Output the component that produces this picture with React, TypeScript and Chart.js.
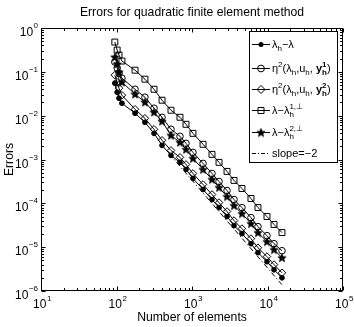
import React, { useEffect, useRef } from 'react';
import { Chart, registerables } from 'chart.js';

Chart.register(...registerables);

// ---------- data ----------
const elements = [95, 102, 108, 118, 176, 238, 314, 401, 527, 693, 833, 1030, 1400, 1840, 2280, 2910, 3600, 4590, 6040, 7480, 9840, 12200, 15550];
const errLambdaH = [0.055, 0.0343, 0.025, 0.0192, 0.01135, 0.00706, 0.00395, 0.0021, 0.00124, 0.00086, 0.000593, 0.00037, 0.000207, 0.000122, 8.0e-5, 5.0e-5, 3.1e-5, 2.04e-5, 1.2e-5, 7.5e-6, 4.66e-6, 3.05e-6, 2.0e-6];
const errEta1 = [0.167, 0.122, 0.093, 0.0718, 0.040, 0.0264, 0.0148, 0.0092, 0.00489, 0.00338, 0.00234, 0.00145, 0.000814, 0.00048, 0.000315, 0.000196, 0.000122, 8.0e-5, 4.73e-5, 2.94e-5, 1.83e-5, 1.2e-5, 8.3e-6];
const errEta2 = [0.084, 0.058, 0.0424, 0.0293, 0.014, 0.0087, 0.00489, 0.00274, 0.00161, 0.00112, 0.00077, 0.00048, 0.000269, 0.000159, 0.000104, 6.5e-5, 4.04e-5, 2.65e-5, 1.57e-5, 9.7e-6, 6.1e-6, 4.0e-6, 2.6e-6];
const errPerp1 = [0.478, 0.314, 0.241, 0.176, 0.109, 0.068, 0.040, 0.0225, 0.0133, 0.0092, 0.00635, 0.00395, 0.00222, 0.00131, 0.00086, 0.000535, 0.000333, 0.000218, 0.000129, 8.0e-5, 5.0e-5, 3.3e-5, 2.15e-5];
const errPerp2 = [0.217, 0.150, 0.098, 0.058, 0.031, 0.0203, 0.012, 0.00745, 0.00356, 0.00246, 0.0017, 0.00106, 0.000593, 0.000351, 0.00023, 0.000143, 8.9e-5, 5.85e-5, 3.45e-5, 2.15e-5, 1.34e-5, 8.8e-6, 5.75e-6];
const slopeElements = [500, 15500];
const slopeErr = [1.35e-3, 1.4e-6];

const xTickExponents = [1, 2, 3, 4, 5];
const yTickExponents = [0, -1, -2, -3, -4, -5, -6];

const titleText = 'Errors for quadratic finite element method';
const xTitleText = 'Number of elements';
const yTitleText = 'Errors';

// legend labels as rich-text segments: [text, mode, bold, sub]; n=normal, b=sub, p=sup, ps=sup+sub stacked
type Seg = [string, string, boolean?, string?];
const legendLabels: Seg[][] = [
  [['λ', 'n'], ['h', 'b'], ['−λ', 'n']],
  [['η', 'n'], ['2', 'p'], ['(λ', 'n'], ['h', 'b'], [',u', 'n'], ['h', 'b'], [', ', 'n'], ['y', 'n', true], ['1', 'ps', true, 'h'], [')', 'n']],
  [['η', 'n'], ['2', 'p'], ['(λ', 'n'], ['h', 'b'], [',u', 'n'], ['h', 'b'], [', ', 'n'], ['y', 'n', true], ['2', 'ps', true, 'h'], [')', 'n']],
  [['λ−λ', 'n'], ['1,⊥', 'ps', false, 'h']],
  [['λ−λ', 'n'], ['2,⊥', 'ps', false, 'h']],
  [['slope=−2', 'n']],
];
const legendMarkers = ['dot', 'circle', 'diamond', 'square', 'star', 'dashdot'];

const FONT = '"Liberation Sans", Arial, Helvetica, sans-serif';

function makeStar(): HTMLCanvasElement {
  const c = document.createElement('canvas');
  c.width = 10;
  c.height = 10;
  const g = c.getContext('2d')!;
  g.fillStyle = '#000';
  g.strokeStyle = '#000';
  g.lineWidth = 0.7;
  const m = 5;
  g.beginPath();
  for (let i = 0; i < 10; i++) {
    const r = i % 2 === 0 ? 4.4 : 1.9;
    const a = -Math.PI / 2 + (i * Math.PI) / 5;
    const px = m + r * Math.cos(a);
    const py = m + 0.4 + r * Math.sin(a);
    if (i === 0) g.moveTo(px, py);
    else g.lineTo(px, py);
  }
  g.closePath();
  g.fill();
  g.stroke();
  return c;
}

function drawMarker(ctx: CanvasRenderingContext2D, kind: string, x: number, y: number) {
  ctx.save();
  ctx.strokeStyle = '#000';
  ctx.fillStyle = '#000';
  ctx.lineWidth = 1;
  ctx.beginPath();
  if (kind === 'dot') {
    ctx.arc(x, y, 2.5, 0, Math.PI * 2);
    ctx.fill();
  } else if (kind === 'circle') {
    ctx.arc(x, y, 3.4, 0, Math.PI * 2);
    ctx.stroke();
  } else if (kind === 'diamond') {
    ctx.moveTo(x, y - 4);
    ctx.lineTo(x + 4, y);
    ctx.lineTo(x, y + 4);
    ctx.lineTo(x - 4, y);
    ctx.closePath();
    ctx.stroke();
  } else if (kind === 'square') {
    ctx.rect(x - 3, y - 3, 6, 6);
    ctx.stroke();
  } else if (kind === 'star') {
    ctx.drawImage(starImg!, x - 5, y - 5);
  }
  ctx.restore();
}

function drawRich(ctx: CanvasRenderingContext2D, x: number, y: number, segs: Seg[]) {
  ctx.textBaseline = 'alphabetic';
  ctx.textAlign = 'left';
  const base = y + 4;
  let cx = x;
  for (const s of segs) {
    const [t, mode, bold, sub] = s;
    const w = bold ? 'bold ' : '';
    if (mode === 'n') {
      ctx.font = `${w}11px ${FONT}`;
      ctx.fillText(t, cx, base);
      cx += ctx.measureText(t).width;
    } else if (mode === 'b') {
      ctx.font = `${w}8px ${FONT}`;
      ctx.fillText(t, cx, base + 3);
      cx += ctx.measureText(t).width;
    } else if (mode === 'p') {
      ctx.font = `${w}8px ${FONT}`;
      ctx.fillText(t, cx, base - 5);
      cx += ctx.measureText(t).width;
    } else if (mode === 'ps') {
      ctx.font = `${w}8px ${FONT}`;
      ctx.fillText(t, cx, base - 5);
      const w1 = ctx.measureText(t).width;
      ctx.fillText(sub || '', cx, base + 3);
      const w2 = ctx.measureText(sub || '').width;
      cx += Math.max(w1, w2);
    }
  }
}

let starImg: HTMLCanvasElement | null = null;

const matlabPlugin = {
  id: 'matlabAxes',
  afterDraw(chart: any) {
    const ctx: CanvasRenderingContext2D = chart.ctx;
    const { left, right, top, bottom } = chart.chartArea;
    const xs = chart.scales.x;
    const ys = chart.scales.y;
    ctx.save();
    ctx.strokeStyle = '#000';
    ctx.fillStyle = '#000';
    ctx.lineWidth = 1;
    const L = Math.round(left) + 0.5;
    const R = Math.round(right) - 0.5;
    const T = Math.round(top) + 0.5;
    const B = Math.round(bottom) - 0.5;
    ctx.strokeRect(L, T, R - L, B - T);

    ctx.beginPath();
    for (let d = 1; d <= 5; d++) {
      for (let k = 1; k <= 9; k++) {
        if (d === 5 && k > 1) break;
        const v = k * Math.pow(10, d);
        const px = Math.round(xs.getPixelForValue(v)) + 0.5;
        const len = k === 1 ? 4 : 2.5;
        ctx.moveTo(px, B);
        ctx.lineTo(px, B - len);
        ctx.moveTo(px, T);
        ctx.lineTo(px, T + len);
      }
    }
    for (let d = -6; d <= 0; d++) {
      for (let k = 1; k <= 9; k++) {
        if (d === 0 && k > 1) break;
        const v = k * Math.pow(10, d);
        const py = Math.round(ys.getPixelForValue(v)) + 0.5;
        const len = k === 1 ? 4 : 2.5;
        ctx.moveTo(L, py);
        ctx.lineTo(L + len, py);
        ctx.moveTo(R, py);
        ctx.lineTo(R - len, py);
      }
    }
    ctx.stroke();

    ctx.textBaseline = 'alphabetic';
    for (const e of xTickExponents) {
      const px = xs.getPixelForValue(Math.pow(10, e));
      ctx.font = `12px ${FONT}`;
      const wb = ctx.measureText('10').width;
      ctx.font = `8px ${FONT}`;
      const es = String(e).replace('-', '−');
      const we = ctx.measureText(es).width;
      const x0 = px + 1 - (wb + we) / 2;
      ctx.font = `12px ${FONT}`;
      ctx.textAlign = 'left';
      ctx.fillText('10', x0, bottom + 17);
      ctx.font = `8px ${FONT}`;
      ctx.fillText(es, x0 + wb + 0.5, bottom + 10);
    }
    for (const e of yTickExponents) {
      const py = ys.getPixelForValue(Math.pow(10, e));
      ctx.font = `8px ${FONT}`;
      const es = String(e).replace('-', '−');
      const we = ctx.measureText(es).width;
      ctx.textAlign = 'left';
      const xr = left - 3;
      ctx.fillText(es, xr - we, py + 0);
      ctx.font = `12px ${FONT}`;
      ctx.textAlign = 'right';
      ctx.fillText('10', xr - we - 0.5, py + 8);
    }

    ctx.textAlign = 'center';
    ctx.textBaseline = 'middle';
    ctx.font = `12.2px ${FONT}`;
    ctx.fillText(titleText, (left + right) / 2, 13);
    ctx.fillText(xTitleText, (left + right) / 2, 318);
    ctx.save();
    ctx.translate(10, (top + bottom) / 2);
    ctx.rotate(-Math.PI / 2);
    ctx.fillText(yTitleText, 0, 0);
    ctx.restore();

    const bx = 249.5, by = 31.5, bw = 88, bh = 131;
    ctx.fillStyle = '#fff';
    ctx.fillRect(bx, by, bw, bh);
    ctx.strokeStyle = '#000';
    ctx.strokeRect(bx, by, bw, bh);
    ctx.fillStyle = '#000';
    const rows = [44, 68, 89, 110, 132, 153];
    legendLabels.forEach((segs, i) => {
      const y = rows[i];
      const kind = legendMarkers[i];
      ctx.beginPath();
      if (kind === 'dashdot') ctx.setLineDash([4, 2, 1, 2]);
      ctx.moveTo(252, y + 0.5);
      ctx.lineTo(270, y + 0.5);
      ctx.stroke();
      ctx.setLineDash([]);
      if (kind !== 'dashdot') drawMarker(ctx, kind, 261, y + 0.5);
      drawRich(ctx, 272, y, segs);
    });
    ctx.restore();
  },
};

export default function App() {
  const ref = useRef<HTMLCanvasElement>(null);
  useEffect(() => {
    starImg = makeStar();
    const mk = (vals: number[], style: any, radius: number, filled: boolean) => ({
      data: elements.map((n, i) => ({ x: n, y: vals[i] })),
      borderColor: '#000',
      backgroundColor: filled ? '#000' : 'rgba(0,0,0,0)',
      borderWidth: 1,
      pointStyle: style,
      pointRadius: radius,
      pointBorderWidth: 1,
      showLine: true,
      fill: false,
    });
    const chart = new Chart(ref.current!, {
      type: 'scatter',
      data: {
        datasets: [
          mk(errLambdaH, 'circle', 2.4, true),
          mk(errEta1, 'circle', 3.3, false),
          mk(errEta2, 'rectRot', 3.8, false),
          mk(errPerp1, 'rect', 4.2, false),
          mk(errPerp2, starImg, 5, true),
          {
            data: slopeElements.map((n, i) => ({ x: n, y: slopeErr[i] })),
            borderColor: '#000',
            borderWidth: 1,
            borderDash: [5, 2.5, 1.2, 2.5],
            pointRadius: 0,
            showLine: true,
            fill: false,
          } as any,
        ],
      },
      options: {
        responsive: false,
        animation: false,
        layout: { padding: { left: 41, right: 11, top: 28, bottom: 36 } },
        plugins: { legend: { display: false }, tooltip: { enabled: false }, title: { display: false } },
        scales: {
          x: { type: 'logarithmic', min: 10, max: 100000, display: false },
          y: { type: 'logarithmic', min: 1e-6, max: 1, display: false },
        },
      },
      plugins: [matlabPlugin],
    });
    return () => chart.destroy();
  }, []);
  return (
    <div style={{ position: 'fixed', left: 0, top: 0, width: 354, height: 327, background: '#fff' }}>
      <canvas ref={ref} width={354} height={327} style={{ display: 'block' }} />
    </div>
  );
}
